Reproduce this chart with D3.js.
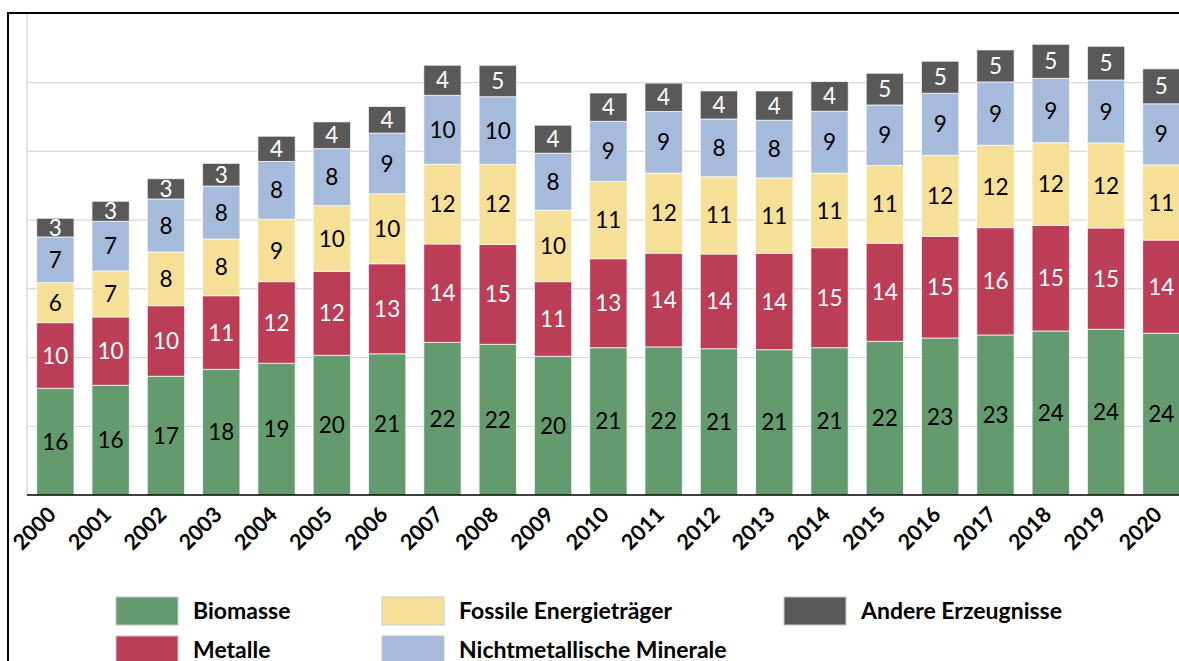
<!DOCTYPE html>
<html>
<head>
<meta charset="utf-8">
<script src="https://cdn.jsdelivr.net/npm/d3@7"></script>
<style>
  html, body { margin: 0; padding: 0; background: #fff; }
  svg { display: block; font-family: Lato, 'Open Sans', sans-serif; }
</style>
</head>
<body>
<script>
const years = ['2000', '2001', '2002', '2003', '2004', '2005', '2006', '2007', '2008', '2009', '2010',
  '2011', '2012', '2013', '2014', '2015', '2016', '2017', '2018', '2019', '2020']

const biomasse = [15.53, 15.97, 17.28, 18.29, 19.17, 20.33, 20.55, 22.22, 21.93, 20.19, 21.44,
  21.55, 21.29, 21.15, 21.44, 22.37, 22.85, 23.29, 23.87, 24.12, 23.55]
const metalle = [9.55, 9.94, 10.27, 10.71, 11.88, 12.23, 13.10, 14.31, 14.55, 10.86, 12.95,
  13.65, 13.78, 14.03, 14.55, 14.26, 14.80, 15.62, 15.38, 14.74, 13.55]
const fossile = [5.82, 6.69, 7.82, 8.25, 9.08, 9.55, 10.19, 11.60, 11.64, 10.39, 11.26,
  11.64, 11.25, 10.96, 10.85, 11.35, 11.79, 11.99, 12.02, 12.37, 10.95]
const minerale = [6.65, 7.23, 7.71, 7.71, 8.41, 8.30, 8.83, 10.04, 9.84, 8.30, 8.73,
  8.97, 8.40, 8.40, 9.01, 8.78, 9.02, 9.21, 9.37, 9.17, 8.88]
const andere = [2.72, 2.91, 2.95, 3.30, 3.67, 3.89, 3.87, 4.37, 4.57, 4.08, 4.12,
  4.13, 4.08, 4.26, 4.32, 4.61, 4.66, 4.66, 4.95, 4.90, 5.09]

const keys = ['biomasse', 'metalle', 'fossile', 'minerale', 'andere']
const legendNames = ['Biomasse', 'Metalle', 'Fossile Energieträger', 'Nichtmetallische Minerale', 'Andere Erzeugnisse']
const gridTicks = [10, 20, 30, 40, 50, 60]

const colors = {
  biomasse: '#639b6e',
  metalle: '#bb3d56',
  fossile: '#f6df96',
  minerale: '#a6bbdb',
  andere: '#595959'
}
const labelColors = {
  biomasse: '#000',
  metalle: '#fff',
  fossile: '#000',
  minerale: '#000',
  andere: '#fff'
}

const width = 1179
const height = 661
const left = 27
const baseY = 495
const topY = 14

const rows = years.map((year, i) => ({
  year: year,
  biomasse: biomasse[i],
  metalle: metalle[i],
  fossile: fossile[i],
  minerale: minerale[i],
  andere: andere[i]
}))

const series = d3.stack().keys(keys)(rows)

const x = d3.scaleBand()
  .domain(years)
  .range([left, 1189.7])
  .paddingInner(0.3255)
  .paddingOuter(0.175)

const y = d3.scaleLinear()
  .domain([0, 70])
  .range([baseY, topY])

const svg = d3.select('body')
  .append('svg')
  .attr('width', width)
  .attr('height', height)

// gridlines
svg.append('g')
  .selectAll('line')
  .data(gridTicks)
  .enter()
  .append('line')
  .attr('x1', left)
  .attr('x2', width)
  .attr('y1', d => y(d))
  .attr('y2', d => y(d))
  .attr('stroke', '#d9d9d9')
  .attr('stroke-width', 1.2)

// vertical axis line
svg.append('line')
  .attr('x1', left)
  .attr('x2', left)
  .attr('y1', topY)
  .attr('y2', baseY)
  .attr('stroke', '#d0d0d0')
  .attr('stroke-width', 1.2)

// bars
const groups = svg.append('g')
  .selectAll('g')
  .data(series)
  .enter()
  .append('g')
  .attr('fill', d => colors[d.key])

groups.selectAll('rect')
  .data(d => d)
  .enter()
  .append('rect')
  .attr('x', d => x(d.data.year))
  .attr('width', x.bandwidth())
  .attr('y', d => y(d[1]))
  .attr('height', d => y(d[0]) - y(d[1]))
  .attr('stroke', 'rgba(255,255,255,0.7)')
  .attr('stroke-width', 1)

// segment labels
const labelGroups = svg.append('g')
  .selectAll('g')
  .data(series)
  .enter()
  .append('g')
  .attr('fill', d => labelColors[d.key])

labelGroups.selectAll('text')
  .data(s => s.map(d => ({ d: d, key: s.key })))
  .enter()
  .append('text')
  .attr('x', e => x(e.d.data.year) + x.bandwidth() / 2)
  .attr('y', e => (y(e.d[0]) + y(e.d[1])) / 2)
  .attr('dy', '0.36em')
  .attr('text-anchor', 'middle')
  .attr('font-size', 22.5)
  .text(e => Math.round(e.d.data[e.key]))

// baseline
svg.append('line')
  .attr('x1', left)
  .attr('x2', width)
  .attr('y1', baseY)
  .attr('y2', baseY)
  .attr('stroke', '#000')
  .attr('stroke-width', 1.5)

// x axis labels
svg.append('g')
  .selectAll('text')
  .data(years)
  .enter()
  .append('text')
  .attr('transform', d => `translate(${x(d) + x.bandwidth() / 2 + 2},${516}) rotate(-45)`)
  .attr('text-anchor', 'end')
  .attr('font-size', 21.5)
  .attr('font-weight', 'bold')
  .attr('fill', '#000')
  .text(d => d)

// legend
const legendPos = [
  { x: 116, y: 597 },
  { x: 116, y: 636 },
  { x: 382, y: 597 },
  { x: 382, y: 636 },
  { x: 784, y: 597 }
]
const legend = svg.append('g')
  .selectAll('g')
  .data(keys)
  .enter()
  .append('g')
  .attr('transform', (d, i) => `translate(${legendPos[i].x},${legendPos[i].y})`)

legend.append('rect')
  .attr('width', 62)
  .attr('height', 28)
  .attr('fill', d => colors[d])
  .attr('stroke', '#c8c8c8')
  .attr('stroke-width', 1)

legend.append('text')
  .attr('x', 77)
  .attr('y', 14)
  .attr('dy', '0.36em')
  .attr('font-size', 23)
  .attr('font-weight', 'bold')
  .attr('fill', '#000')
  .text((d, i) => legendNames[i])

// outer frame
svg.append('rect')
  .attr('x', 8)
  .attr('y', 13)
  .attr('width', width + 20)
  .attr('height', height + 20)
  .attr('fill', 'none')
  .attr('stroke', '#000')
  .attr('stroke-width', 2)
</script>
</body>
</html>
